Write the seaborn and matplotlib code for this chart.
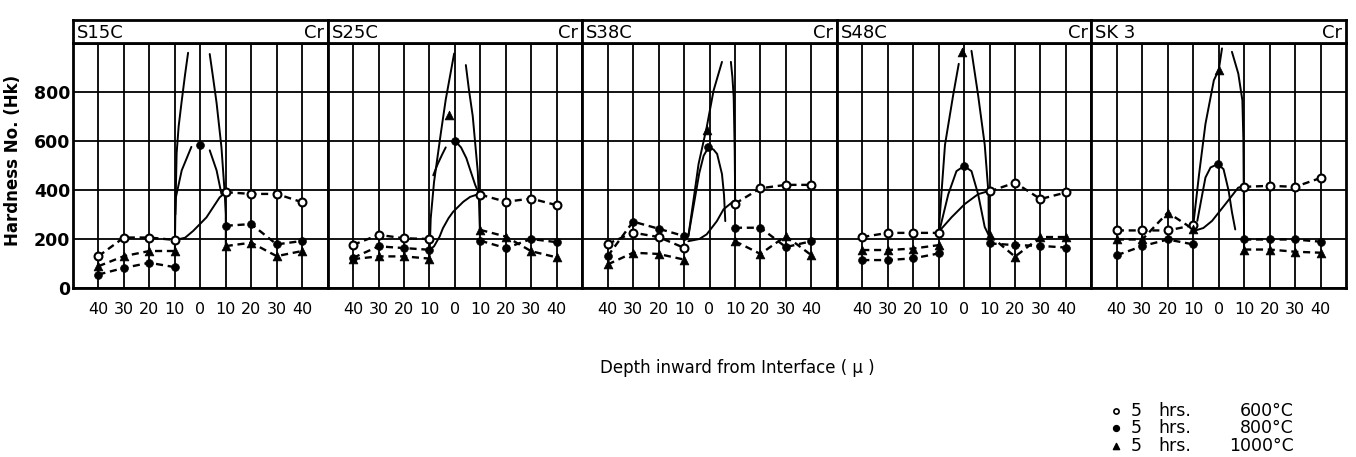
import numpy as np
import pandas as pd
import matplotlib.pyplot as plt
import seaborn as sns

steels = ["S15C", "S25C", "S38C", "S48C", "SK 3"]
steel_depth = [-40, -30, -20, -10]   # steel side of the interface
cr_depth = [10, 20, 30, 40]          # Cr layer side

# Knoop hardness read at each depth, one row per steel
hk600_steel = [[130, 206, 206, 196], [176, 217, 203, 200], [180, 226, 208, 164],
               [208, 225, 225, 225], [235, 235, 235, 256]]
hk600_cr = [[391, 384, 384, 350], [381, 352, 365, 338], [344, 407, 421, 421],
            [394, 430, 363, 390], [413, 417, 413, 449]]
hk800_steel = [[55, 82, 103, 85], [123, 170, 163, 156], [130, 271, 242, 212],
               [114, 114, 121, 141], [134, 171, 198, 178]]
hk800_cr = [[254, 261, 178, 192], [193, 163, 200, 187], [246, 246, 167, 191],
            [182, 175, 172, 165], [198, 198, 198, 189]]
hk1000_steel = [[89, 130, 151, 151], [118, 129, 129, 120], [96, 144, 139, 116],
                [155, 155, 161, 175], [198, 198, 308, 240]]
hk1000_cr = [[171, 185, 130, 151], [237, 210, 150, 125], [191, 139, 212, 134],
             [215, 128, 208, 208], [157, 157, 148, 144]]

# readings right at the interface
peak800_x = [0, 0, -0.4, 0, -0.3]
peak800 = [583, 601, 574, 498, 506]
peak1000_x = [None, -2.5, -1, -1, 0]
peak1000 = [None, 708, 643, 962, 889]

# hand drawn curves across the interface (x, Hk)
curve600 = {
    "S15C": ([-10, -6, -2.8, 2.4, 7.6, 10], [196, 205, 233, 288, 370, 391]),
    "S25C": ([-10, -8.2, -6, -4.7, -2.5, -0.7, 3.3, 6, 8.6], [156, 170, 210, 244, 285, 311, 352, 372, 381]),
    "S38C": ([-8.3, -4, -1.1, 2.9, 5.5, 9.5], [191, 200, 219, 273, 321, 355]),
    "S48C": ([-10, -9.5, -4.9, 0.3, 5.5, 9.1], [225, 235, 289, 343, 383, 394]),
    "SK 3": ([-10, -6, -2.6, 2.6, 7.7, 9.7], [232, 245, 274, 342, 410, 413]),
}
curve800_steel = {
    "S15C": ([-9.8, -9.6, -7.3, -3.5], [300, 370, 480, 576]),
    "S25C": ([-8.5, -6.8, -5, -3.6], [460, 505, 545, 574]),
    "S38C": ([-8.3, -6, -4, -2.3, -0.4], [212, 350, 470, 540, 574]),
    "S48C": ([-10, -9.5, -6.2, -3, 0], [225, 242, 383, 477, 498]),
    "SK 3": ([-8.4, -6.5, -5.2, -3.2, -0.3], [274, 380, 451, 492, 506]),
}
curve800_cr = {
    "S15C": ([3.7, 6.4, 8.3], [562, 480, 384]),
    "S25C": ([0, 2.4, 4.5, 6.3, 8, 9.6], [601, 574, 530, 473, 420, 381]),
    "S38C": ([-0.4, 1.6, 3.0, 4.9, 5.7, 6.2], [574, 565, 547, 465, 380, 273]),
    "S48C": ([0, 2.9, 5.5, 8.1, 9.7], [498, 477, 383, 249, 215]),
    "SK 3": ([-0.3, 1.9, 3.9, 5.2, 6.5], [506, 485, 397, 310, 239]),
}
curve1000_steel = {
    "S15C": ([-10, -9.8, -9.3, -8.5, -7.4, -6, -4.8], [151, 300, 550, 660, 755, 870, 960]),
    "S25C": ([-10, -9.5, -8.2, -5.5, -3.6, -0.3], [120, 284, 432, 634, 769, 957]),
    "S38C": ([-10, -8.3, -6, -4.3, -1.1, 1.6, 4.9], [212, 212, 380, 506, 656, 806, 923]),
    "S48C": ([-10, -9.5, -7.5, -4.3, -2.1], [225, 300, 585, 787, 915]),
    "SK 3": ([-10, -7.7, -5.2, -1.9, 0, 1.3], [256, 465, 670, 848, 889, 978]),
}
curve1000_cr = {
    "S15C": ([3.7, 5, 6.4, 8.3, 9.6, 10, 10], [955, 860, 755, 575, 385, 300, 171]),
    "S25C": ([4.3, 5.5, 7.0, 9.0, 9.4, 9.8], [910, 810, 702, 473, 378, 237]),
    "S38C": ([8.4, 9.0, 9.5, 9.9, 10.1], [923, 860, 779, 560, 344]),
    "S48C": ([2.9, 5.5, 8.1, 9.6, 9.7], [968, 787, 585, 383, 215]),
    "SK 3": ([5.2, 7.7, 9.3, 9.7, 10], [964, 875, 766, 602, 157]),
}

# --- long tables ---
rows = []
for i, s in enumerate(steels):
    for temp, st, cr in [(600, hk600_steel, hk600_cr), (800, hk800_steel, hk800_cr),
                         (1000, hk1000_steel, hk1000_cr)]:
        for d, v in zip(steel_depth, st[i]):
            rows.append((s, temp, f"{temp}s", d, v))
        for d, v in zip(cr_depth, cr[i]):
            rows.append((s, temp, f"{temp}c", d, v))
points = pd.DataFrame(rows, columns=["steel", "temp", "seg", "depth", "hk"])

prow = []
for i, s in enumerate(steels):
    prow.append((s, 800, peak800_x[i], peak800[i]))
    if peak1000[i] is not None:
        prow.append((s, 1000, peak1000_x[i], peak1000[i]))
peaks = pd.DataFrame(prow, columns=["steel", "temp", "depth", "hk"])

crows = []
for name, curves in [("c600", curve600), ("c800s", curve800_steel), ("c800c", curve800_cr),
                     ("c1000s", curve1000_steel), ("c1000c", curve1000_cr)]:
    for s, (xs, ys) in curves.items():
        for x, y in zip(xs, ys):
            crows.append((s, name, x, y))
curves_df = pd.DataFrame(crows, columns=["steel", "curve", "depth", "hk"])

# --- figure ---
sns.set_style("white")
plt.rcParams["font.family"] = ["DejaVu Sans"]
for k in ["text.color", "axes.labelcolor", "xtick.color", "ytick.color"]:
    plt.rcParams[k] = "black"

W, H = 1356, 457
fig = plt.figure(figsize=(W / 100, H / 100), dpi=100)

x0, pw = 73, 254.6
plot_bot, plot_top, head_top = 288, 43, 20

for i, s in enumerate(steels):
    left = (x0 + pw * i) / W
    ax = fig.add_axes([left, 1 - plot_bot / H, pw / W, (plot_bot - plot_top) / H])
    hax = fig.add_axes([left, 1 - plot_top / H, pw / W, (plot_top - head_top) / H])

    pts = points[points.steel == s]
    pk = peaks[peaks.steel == s]
    cv = curves_df[curves_df.steel == s]

    sns.lineplot(data=cv, x="depth", y="hk", units="curve", estimator=None, sort=False,
                 color="black", lw=1.4, ax=ax)
    sns.lineplot(data=pts, x="depth", y="hk", units="seg", estimator=None,
                 color="black", lw=1.7, linestyle=(0, (3, 2)), ax=ax)

    sns.scatterplot(data=pts[pts.temp == 600], x="depth", y="hk", marker="o", s=32,
                    color="white", edgecolor="black", linewidth=1.5, ax=ax, zorder=4)
    p8 = pd.concat([pts[pts.temp == 800], pk[pk.temp == 800]])
    sns.scatterplot(data=p8, x="depth", y="hk", marker="o", s=32,
                    color="black", edgecolor="black", ax=ax, zorder=4)
    p10 = pd.concat([pts[pts.temp == 1000], pk[pk.temp == 1000]])
    sns.scatterplot(data=p10, x="depth", y="hk", marker="^", s=40,
                    color="black", edgecolor="black", ax=ax, zorder=4)

    ax.set_xlim(-50, 50)
    ax.set_ylim(0, 1000)
    ax.set_xticks(range(-40, 41, 10))
    ax.set_xticklabels([str(abs(t)) for t in range(-40, 41, 10)], fontsize=11.5)
    ax.set_yticks([0, 200, 400, 600, 800])
    ax.grid(True, color="black", lw=1.3)
    ax.set_axisbelow(True)
    ax.tick_params(axis="x", length=0, pad=10)
    ax.tick_params(axis="y", length=0, pad=2)
    ax.set_xlabel("")
    ax.set_ylabel("")
    if i == 0:
        ax.set_yticklabels(["0", "200", "400", "600", "800"], fontsize=12.5, fontweight="bold")
        ax.set_ylabel("Hardness No. (Hk)", fontsize=12, fontweight="bold")
        ax.yaxis.set_label_coords(-0.2, 0.52)
    else:
        ax.set_yticklabels([])
    for sp in ax.spines.values():
        sp.set_linewidth(2.0)
        sp.set_color("black")

    hax.set_xticks([])
    hax.set_yticks([])
    for sp in hax.spines.values():
        sp.set_linewidth(2.0)
        sp.set_color("black")
    hax.text(0.015, 0.45, s, ha="left", va="center", fontsize=13, transform=hax.transAxes)
    hax.text(0.985, 0.45, "Cr", ha="right", va="center", fontsize=13, transform=hax.transAxes)

fig.text(737 / W, 1 - 368 / H, "Depth inward from Interface ( \u00b5 )", ha="center",
         va="center", fontsize=12)

# legend block, bottom right
lax = fig.add_axes([0, 0, 1, 1])
lax.set_xlim(0, W)
lax.set_ylim(H, 0)
lax.axis("off")
leg_temps = ["600\u00b0C", "800\u00b0C", "1000\u00b0C"]
leg_y = [411, 428, 446]
lax.scatter([1116], [leg_y[0]], marker="o", s=14, color="white", edgecolor="black", linewidth=1.2)
lax.scatter([1116], [leg_y[1]], marker="o", s=18, color="black")
lax.scatter([1116], [leg_y[2]], marker="^", s=20, color="black")
for t, y in zip(leg_temps, leg_y):
    lax.text(1131, y, "5", ha="left", va="center", fontsize=12.5)
    lax.text(1158, y, "hrs.", ha="left", va="center", fontsize=12.5)
    lax.text(1294, y, t, ha="right", va="center", fontsize=12.5)

fig.savefig("out.png", dpi=100)
